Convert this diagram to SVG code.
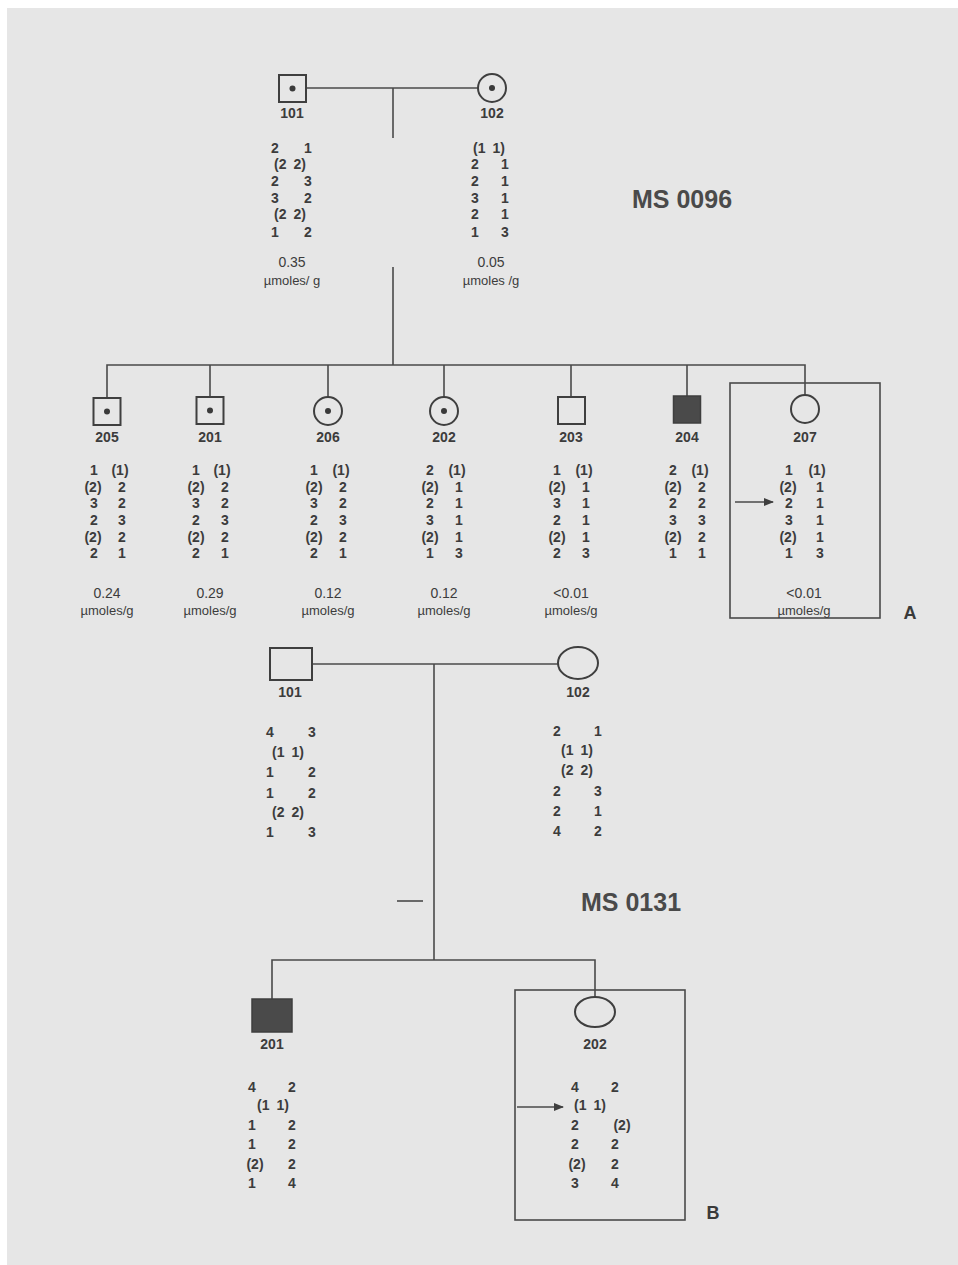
<svg xmlns="http://www.w3.org/2000/svg" width="958" height="1265" viewBox="0 0 958 1265">
<style>
.ln{stroke:#4a4a4a;stroke-width:1.6;fill:none}
.sh{stroke:#3f3f3f;stroke-width:2;fill:none}
.fl{fill:#4a4a4a;stroke:#3f3f3f;stroke-width:1.5}
.dot{fill:#3a3a3a}
text{font-family:"Liberation Sans",Arial,sans-serif;fill:#3c3c3c;text-anchor:middle;dominant-baseline:central}
.t{font-size:14px;font-weight:bold}
.p{word-spacing:3px}
.u{font-size:13px}
.v{font-size:14px}
.big{font-size:25px;font-weight:bold;fill:#4a4a4a}
.lab{font-size:18px;font-weight:bold;fill:#3a3a3a}
</style>
<defs>
<marker id="ah" markerWidth="10" markerHeight="8" refX="9" refY="4" orient="auto" markerUnits="userSpaceOnUse">
<path d="M0,0 L10,4 L0,8 Z" fill="#3f3f3f"/>
</marker>
</defs>
<rect x="0" y="0" width="958" height="1265" fill="#ffffff"/>
<rect x="7" y="8" width="951" height="1257" fill="#e6e6e6"/>

<g id="connectors">
<line class="ln" x1="306" y1="88" x2="478" y2="88"/>
<line class="ln" x1="393" y1="88" x2="393" y2="138"/>
<line class="ln" x1="393" y1="267" x2="393" y2="365"/>
<polyline class="ln" points="107,398 107,365 805,365 805,395"/>
<line class="ln" x1="210" y1="365" x2="210" y2="397"/>
<line class="ln" x1="328" y1="365" x2="328" y2="397"/>
<line class="ln" x1="444" y1="365" x2="444" y2="397"/>
<line class="ln" x1="571" y1="365" x2="571" y2="397"/>
<line class="ln" x1="687" y1="365" x2="687" y2="396"/>
<line class="ln" x1="312" y1="664" x2="558" y2="664"/>
<line class="ln" x1="434" y1="664" x2="434" y2="960"/>
<line class="ln" x1="397" y1="901" x2="423" y2="901"/>
<polyline class="ln" points="272,999 272,960 595,960 595,997"/>
</g>

<g id="A-title"><text class="big" x="682" y="199">MS 0096</text></g>
<g id="A-label"><text class="lab" x="910" y="613">A</text></g>

<g id="A-101">
<rect class="sh" x="279" y="75" width="27" height="27"/>
<circle class="dot" cx="292.5" cy="88.5" r="3"/>
<text class="t" x="292" y="113">101</text>
<text class="t" x="275" y="148">2</text><text class="t" x="308" y="148">1</text>
<text class="t p" x="290" y="164">(2 2)</text>
<text class="t" x="275" y="181">2</text><text class="t" x="308" y="181">3</text>
<text class="t" x="275" y="198">3</text><text class="t" x="308" y="198">2</text>
<text class="t p" x="290" y="214">(2 2)</text>
<text class="t" x="275" y="232">1</text><text class="t" x="308" y="232">2</text>
<text class="v" x="292" y="262">0.35</text>
<text class="u" x="292" y="280">µmoles/ g</text>
</g>

<g id="A-102">
<circle class="sh" cx="492" cy="88" r="14"/>
<circle class="dot" cx="492" cy="88" r="3"/>
<text class="t" x="492" y="113">102</text>
<text class="t p" x="489" y="148">(1 1)</text>
<text class="t" x="475" y="164">2</text><text class="t" x="505" y="164">1</text>
<text class="t" x="475" y="181">2</text><text class="t" x="505" y="181">1</text>
<text class="t" x="475" y="198">3</text><text class="t" x="505" y="198">1</text>
<text class="t" x="475" y="214">2</text><text class="t" x="505" y="214">1</text>
<text class="t" x="475" y="232">1</text><text class="t" x="505" y="232">3</text>
<text class="v" x="491" y="262">0.05</text>
<text class="u" x="491" y="280">µmoles /g</text>
</g>

<g id="A-205">
<rect class="sh" x="93.5" y="398" width="27" height="27"/>
<circle class="dot" cx="107" cy="411.5" r="3"/>
<text class="t" x="107" y="437">205</text>
<text class="t" x="94" y="470">1</text><text class="t" x="120" y="470">(1)</text>
<text class="t" x="93" y="487">(2)</text><text class="t" x="122" y="487">2</text>
<text class="t" x="94" y="503">3</text><text class="t" x="122" y="503">2</text>
<text class="t" x="94" y="520">2</text><text class="t" x="122" y="520">3</text>
<text class="t" x="93" y="537">(2)</text><text class="t" x="122" y="537">2</text>
<text class="t" x="94" y="553">2</text><text class="t" x="122" y="553">1</text>
<text class="v" x="107" y="593">0.24</text>
<text class="u" x="107" y="610">µmoles/g</text>
</g>

<g id="A-201">
<rect class="sh" x="196.5" y="397" width="27" height="27"/>
<circle class="dot" cx="210" cy="410.5" r="3"/>
<text class="t" x="210" y="437">201</text>
<text class="t" x="196" y="470">1</text><text class="t" x="222" y="470">(1)</text>
<text class="t" x="196" y="487">(2)</text><text class="t" x="225" y="487">2</text>
<text class="t" x="196" y="503">3</text><text class="t" x="225" y="503">2</text>
<text class="t" x="196" y="520">2</text><text class="t" x="225" y="520">3</text>
<text class="t" x="196" y="537">(2)</text><text class="t" x="225" y="537">2</text>
<text class="t" x="196" y="553">2</text><text class="t" x="225" y="553">1</text>
<text class="v" x="210" y="593">0.29</text>
<text class="u" x="210" y="610">µmoles/g</text>
</g>

<g id="A-206">
<circle class="sh" cx="328" cy="411" r="14"/>
<circle class="dot" cx="328" cy="411" r="3"/>
<text class="t" x="328" y="437">206</text>
<text class="t" x="314" y="470">1</text><text class="t" x="341" y="470">(1)</text>
<text class="t" x="314" y="487">(2)</text><text class="t" x="343" y="487">2</text>
<text class="t" x="314" y="503">3</text><text class="t" x="343" y="503">2</text>
<text class="t" x="314" y="520">2</text><text class="t" x="343" y="520">3</text>
<text class="t" x="314" y="537">(2)</text><text class="t" x="343" y="537">2</text>
<text class="t" x="314" y="553">2</text><text class="t" x="343" y="553">1</text>
<text class="v" x="328" y="593">0.12</text>
<text class="u" x="328" y="610">µmoles/g</text>
</g>

<g id="A-202">
<circle class="sh" cx="444" cy="411" r="14"/>
<circle class="dot" cx="444" cy="411" r="3"/>
<text class="t" x="444" y="437">202</text>
<text class="t" x="430" y="470">2</text><text class="t" x="457" y="470">(1)</text>
<text class="t" x="430" y="487">(2)</text><text class="t" x="459" y="487">1</text>
<text class="t" x="430" y="503">2</text><text class="t" x="459" y="503">1</text>
<text class="t" x="430" y="520">3</text><text class="t" x="459" y="520">1</text>
<text class="t" x="430" y="537">(2)</text><text class="t" x="459" y="537">1</text>
<text class="t" x="430" y="553">1</text><text class="t" x="459" y="553">3</text>
<text class="v" x="444" y="593">0.12</text>
<text class="u" x="444" y="610">µmoles/g</text>
</g>

<g id="A-203">
<rect class="sh" x="558" y="397" width="27" height="27"/>
<text class="t" x="571" y="437">203</text>
<text class="t" x="557" y="470">1</text><text class="t" x="584" y="470">(1)</text>
<text class="t" x="557" y="487">(2)</text><text class="t" x="586" y="487">1</text>
<text class="t" x="557" y="503">3</text><text class="t" x="586" y="503">1</text>
<text class="t" x="557" y="520">2</text><text class="t" x="586" y="520">1</text>
<text class="t" x="557" y="537">(2)</text><text class="t" x="586" y="537">1</text>
<text class="t" x="557" y="553">2</text><text class="t" x="586" y="553">3</text>
<text class="v" x="571" y="593">&lt;0.01</text>
<text class="u" x="571" y="610">µmoles/g</text>
</g>

<g id="A-204">
<rect class="fl" x="673.5" y="396" width="27" height="27"/>
<text class="t" x="687" y="437">204</text>
<text class="t" x="673" y="470">2</text><text class="t" x="700" y="470">(1)</text>
<text class="t" x="673" y="487">(2)</text><text class="t" x="702" y="487">2</text>
<text class="t" x="673" y="503">2</text><text class="t" x="702" y="503">2</text>
<text class="t" x="673" y="520">3</text><text class="t" x="702" y="520">3</text>
<text class="t" x="673" y="537">(2)</text><text class="t" x="702" y="537">2</text>
<text class="t" x="673" y="553">1</text><text class="t" x="702" y="553">1</text>
</g>

<g id="A-207">
<rect class="ln" x="730" y="383" width="150" height="235"/>
<circle class="sh" cx="805" cy="409" r="14"/>
<text class="t" x="805" y="437">207</text>
<line class="ln" x1="735" y1="502" x2="773" y2="502" marker-end="url(#ah)"/>
<text class="t" x="789" y="470">1</text><text class="t" x="817" y="470">(1)</text>
<text class="t" x="788" y="487">(2)</text><text class="t" x="820" y="487">1</text>
<text class="t" x="789" y="503">2</text><text class="t" x="820" y="503">1</text>
<text class="t" x="789" y="520">3</text><text class="t" x="820" y="520">1</text>
<text class="t" x="788" y="537">(2)</text><text class="t" x="820" y="537">1</text>
<text class="t" x="789" y="553">1</text><text class="t" x="820" y="553">3</text>
<text class="v" x="804" y="593">&lt;0.01</text>
<text class="u" x="804" y="610">µmoles/g</text>
</g>

<g id="B-title"><text class="big" x="631" y="902">MS 0131</text></g>
<g id="B-label"><text class="lab" x="713" y="1213">B</text></g>

<g id="B-101">
<rect class="sh" x="270" y="648" width="42" height="32"/>
<text class="t" x="290" y="692">101</text>
<text class="t" x="270" y="732">4</text><text class="t" x="312" y="732">3</text>
<text class="t p" x="288" y="752">(1 1)</text>
<text class="t" x="270" y="772">1</text><text class="t" x="312" y="772">2</text>
<text class="t" x="270" y="793">1</text><text class="t" x="312" y="793">2</text>
<text class="t p" x="288" y="812">(2 2)</text>
<text class="t" x="270" y="832">1</text><text class="t" x="312" y="832">3</text>
</g>

<g id="B-102">
<ellipse class="sh" cx="578" cy="663" rx="20" ry="16"/>
<text class="t" x="578" y="692">102</text>
<text class="t" x="557" y="731">2</text><text class="t" x="598" y="731">1</text>
<text class="t p" x="577" y="750">(1 1)</text>
<text class="t p" x="577" y="770">(2 2)</text>
<text class="t" x="557" y="791">2</text><text class="t" x="598" y="791">3</text>
<text class="t" x="557" y="811">2</text><text class="t" x="598" y="811">1</text>
<text class="t" x="557" y="831">4</text><text class="t" x="598" y="831">2</text>
</g>

<g id="B-201">
<rect class="fl" x="252" y="999" width="40" height="33"/>
<text class="t" x="272" y="1044">201</text>
<text class="t" x="252" y="1087">4</text><text class="t" x="292" y="1087">2</text>
<text class="t p" x="273" y="1105">(1 1)</text>
<text class="t" x="252" y="1125">1</text><text class="t" x="292" y="1125">2</text>
<text class="t" x="252" y="1144">1</text><text class="t" x="292" y="1144">2</text>
<text class="t" x="255" y="1164">(2)</text><text class="t" x="292" y="1164">2</text>
<text class="t" x="252" y="1183">1</text><text class="t" x="292" y="1183">4</text>
</g>

<g id="B-202">
<rect class="ln" x="515" y="990" width="170" height="230"/>
<ellipse class="sh" cx="595" cy="1012" rx="20" ry="15"/>
<text class="t" x="595" y="1044">202</text>
<line class="ln" x1="517" y1="1107" x2="563" y2="1107" marker-end="url(#ah)"/>
<text class="t" x="575" y="1087">4</text><text class="t" x="615" y="1087">2</text>
<text class="t p" x="590" y="1105">(1 1)</text>
<text class="t" x="575" y="1125">2</text><text class="t" x="622" y="1125">(2)</text>
<text class="t" x="575" y="1144">2</text><text class="t" x="615" y="1144">2</text>
<text class="t" x="577" y="1164">(2)</text><text class="t" x="615" y="1164">2</text>
<text class="t" x="575" y="1183">3</text><text class="t" x="615" y="1183">4</text>
</g>
</svg>
